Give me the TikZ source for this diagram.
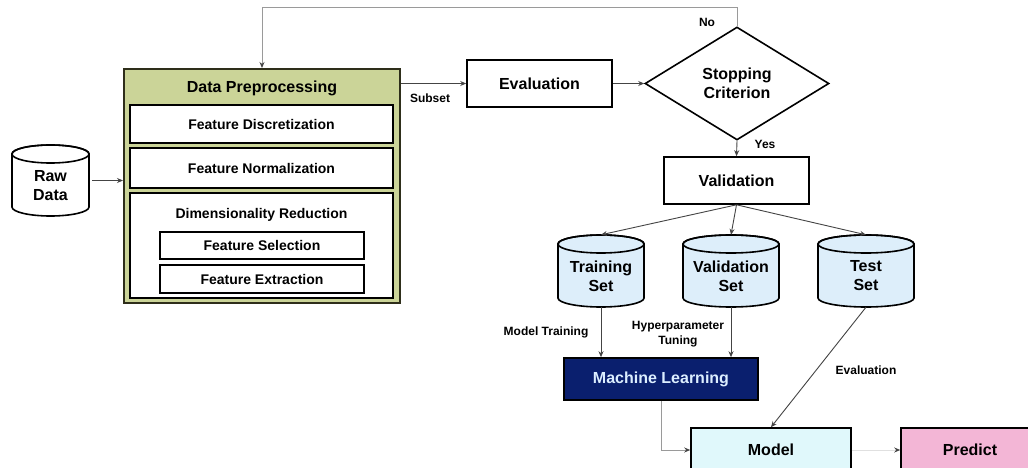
\documentclass[tikz,border=0pt]{standalone}
\usepackage{fontspec}
\setmainfont{Liberation Sans}
\usetikzlibrary{arrows.meta,shapes.geometric}
\definecolor{dpfill}{HTML}{CBD498}
\definecolor{dpborder}{HTML}{2E2E1A}
\definecolor{setfill}{HTML}{DDEEFA}
\definecolor{mlblue}{HTML}{0A1F6E}
\definecolor{mltext}{HTML}{DCEEFF}
\definecolor{modelc}{HTML}{E0F8FB}
\definecolor{predc}{HTML}{F3B6D6}
\definecolor{connc}{HTML}{444444}
\definecolor{connl}{HTML}{9A9A9A}
\tikzset{
  box/.style={draw=black, line width=1.6pt, fill=white, inner sep=0pt, align=center,
    font=\bfseries\fontsize{16}{19}\selectfont},
  subbox/.style={box, font=\bfseries\fontsize{14}{16}\selectfont},
  lbl/.style={font=\bfseries\fontsize{12}{15}\selectfont, inner sep=0pt, align=center},
  cylstyle/.style={draw=black, line width=1.6pt},
  cyltext/.style={font=\bfseries\fontsize{16}{19}\selectfont, inner sep=0pt, align=center},
  conn/.style={draw=connc, line width=0.9pt, -{Stealth[length=6pt,width=5pt]}},
  connlight/.style={draw=connl, line width=0.9pt, -{Stealth[length=6pt,width=5pt,color=connc]}},
}
\newcommand{\mycyl}[7]{%
  \node[minimum width=#4, minimum height=#5, inner sep=0pt] (#1) at (#2,#3) {};
  \filldraw[cylstyle, fill=#6] (#2-#4/2, #3-#5/2+9) -- (#2-#4/2, #3+#5/2-9)
     arc[start angle=180, end angle=0, x radius=#4/2, y radius=9]
     -- (#2+#4/2, #3-#5/2+9)
     arc[start angle=0, end angle=-180, x radius=#4/2, y radius=9] -- cycle;
  \draw[cylstyle] (#2,#3-#5/2+9) ellipse[x radius=#4/2, y radius=9];
  \node[cyltext] (#1-t) at (#2,#3+5) {#7};
}
\begin{document}
\begin{tikzpicture}[x=1pt,y=-1pt]
\useasboundingbox (0,0) rectangle (1028,468);
\clip (0,0) rectangle (1028,468);
\fill[white] (0,0) rectangle (1028,468);

% Data preprocessing block
\node[draw=dpborder, line width=2pt, fill=dpfill, minimum width=276, minimum height=234, inner sep=0pt] (dp) at (262,186) {};
\node[font=\bfseries\fontsize{16}{19}\selectfont, inner sep=0pt] (dptitle) at (262,88) {Data Preprocessing};
\node[subbox, minimum width=263, minimum height=38] (fd) at (261.5,124) {Feature Discretization};
\node[subbox, minimum width=263, minimum height=40] (fn) at (261.5,168) {Feature Normalization};
\node[box, minimum width=263, minimum height=105] (dr) at (261.5,245.5) {};
\node[font=\bfseries\fontsize{14}{16}\selectfont, inner sep=0pt] (drtitle) at (261.5,215) {Dimensionality Reduction};
\node[subbox, minimum width=204, minimum height=27] (fs) at (262,245.5) {Feature Selection};
\node[subbox, minimum width=204, minimum height=28] (fe) at (262,279) {Feature Extraction};

% Raw data
\mycyl{raw}{50.5}{180.5}{77}{71}{white}{Raw\\Data}

% Evaluation loop
\node[box, minimum width=145, minimum height=47] (eval) at (539.5,83.5) {Evaluation};
\node[box, diamond, minimum width=184, minimum height=113] (stop) at (737,83.5) {Stopping\\Criterion};
\node[box, minimum width=145, minimum height=47] (valid) at (736.5,180.5) {Validation};

% Sets
\mycyl{train}{601}{271}{86}{72}{setfill}{Training\\Set}
\mycyl{vset}{731}{271}{96}{72}{setfill}{Validation\\Set}
\mycyl{test}{866}{271}{96}{72}{setfill}{Test\\Set}

% Bottom
\node[box, fill=mlblue, text=mltext, minimum width=194, minimum height=42] (ml) at (661,379) {Machine Learning};
\node[box, fill=modelc, minimum width=160, minimum height=44] (model) at (771,450) {Model};
\node[box, fill=predc, minimum width=138, minimum height=44] (pred) at (970,450) {Predict};

% Connectors
\draw[conn, shorten <=3pt] (raw.east) -- (raw.east -| dp.west);
\draw[conn] (eval.west -| dp.east) -- (eval.west);
\draw[conn] (eval.east) -- (stop.west);
\draw[connlight] (stop.north) -- ++(0,-19) -| (dp.north);
\draw[conn] (stop.south) -- (valid.north);
\draw[conn] (valid.south) -- (train.north);
\draw[conn] (valid.south) -- (vset.north);
\draw[conn] (valid.south) -- (test.north);
\draw[conn] (train.south) -- (train.south |- ml.north);
\draw[conn] (vset.south) -- (vset.south |- ml.north);
\draw[conn] (test.south) -- (model.north);
\draw[connlight] (ml.south) |- (model.west);
\draw[connlight, draw=black!12] (model.east) -- (pred.west);

% Labels
\node[lbl] (lsub) at (430,98) {Subset};
\node[lbl] (lno) at (707,22) {No};
\node[lbl] (lyes) at (765,144) {Yes};
\node[lbl] (lmt) at (546,332) {Model Training};
\node[lbl] (lhp) at (678,334) {Hyperparameter\\Tuning};
\node[lbl] (lev) at (866,370) {Evaluation};
\end{tikzpicture}
\end{document}
